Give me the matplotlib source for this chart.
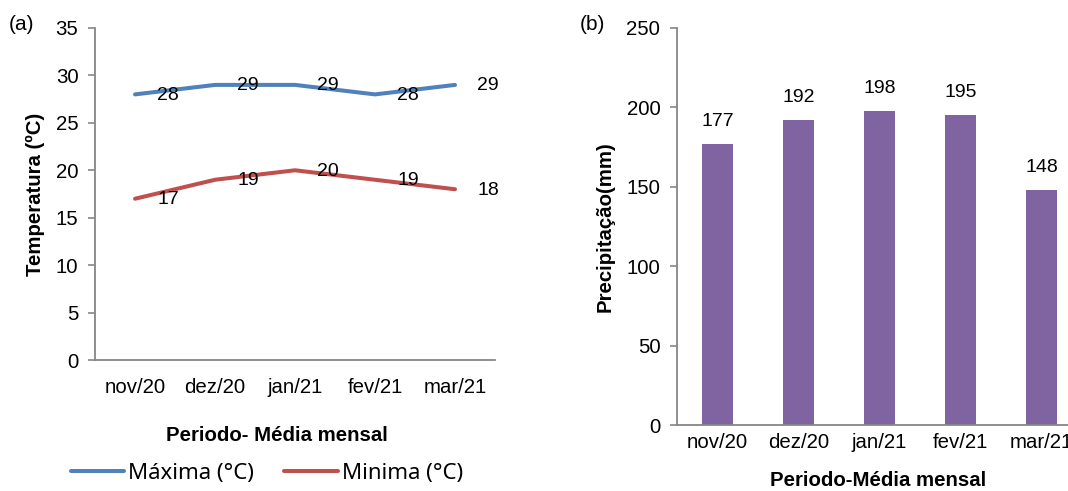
import matplotlib
matplotlib.use("Agg")
import matplotlib.pyplot as plt

# dados
meses = ["nov/20", "dez/20", "jan/21", "fev/21", "mar/21"]
t_max = [28, 29, 29, 28, 29]
t_min = [17, 19, 20, 19, 18]
precip = [177, 192, 198, 195, 148]

plt.rcParams['font.family'] = ['Liberation Sans', 'DejaVu Sans']
cinza = "#868686"
azul = "#4F81BD"
verm = "#C0504D"
roxo = "#8064A2"
fs = 14.7

fig = plt.figure(figsize=(10.68, 4.91), dpi=100)

# ----- (a) temperatura -----
ax1 = fig.add_axes([0.0890, 0.2668, 0.3745, 0.6762])
x = range(len(meses))
l1, = ax1.plot(x, t_max, color=azul, lw=2.9, solid_capstyle='round', label="Máxima (°C)")
l2, = ax1.plot(x, t_min, color=verm, lw=2.9, solid_capstyle='round', label="Minima (°C)")
for serie in (t_max, t_min):
    for i, v in enumerate(serie):
        ax1.annotate(str(v), (i, v), xytext=(33, -1), textcoords='offset pixels',
                     ha='center', va='center', fontsize=14)
ax1.set_xlim(-0.5, 4.5)
ax1.set_ylim(0, 35)
ax1.set_yticks(range(0, 36, 5))
ax1.set_xticks(list(x))
ax1.set_xticklabels(meses)
ax1.set_ylabel("Temperatura (ºC)", fontsize=fs, fontweight='bold')
ax1.set_xlabel("Periodo- Média mensal", fontsize=fs, fontweight='bold')
ax1.yaxis.label.set_va('center')
ax1.xaxis.label.set_va('center')
ax1.yaxis.set_label_coords(-0.15, 0.5)
ax1.xaxis.set_label_coords(0.455, -0.226)
ax1.tick_params(axis='y', length=5, width=1.2, color=cinza, pad=7, labelsize=fs)
ax1.tick_params(axis='x', length=0, pad=13, labelsize=fs)

# ----- (b) precipitacao -----
ax2 = fig.add_axes([0.6339, 0.1344, 0.3792, 0.8086])
barras = ax2.bar(x, precip, width=0.39, color=roxo)
ax2.bar_label(barras, padding=10, fontsize=14)
ax2.set_xlim(-0.5, 4.5)
ax2.set_ylim(0, 250)
ax2.set_yticks(range(0, 251, 50))
ax2.set_xticks(list(x))
ax2.set_xticklabels(meses)
ax2.set_ylabel("Precipitação(mm)", fontsize=fs, fontweight='bold')
ax2.set_xlabel("Periodo-Média mensal", fontsize=fs, fontweight='bold')
ax2.yaxis.label.set_va('center')
ax2.xaxis.label.set_va('center')
ax2.yaxis.set_label_coords(-0.178, 0.5)
ax2.xaxis.set_label_coords(0.496, -0.139)
ax2.tick_params(axis='y', length=5, width=1.2, color=cinza, pad=7, labelsize=fs)
ax2.tick_params(axis='x', length=0, pad=6, labelsize=fs)

for ax in (ax1, ax2):
    for s in ("top", "right"):
        ax.spines[s].set_visible(False)
    for s in ("left", "bottom"):
        ax.spines[s].set_color(cinza)
        ax.spines[s].set_linewidth(1.3)

fig.legend(handles=[l1, l2], loc='center', bbox_to_anchor=(0.25, 0.036), ncol=2,
           frameon=False, handlelength=2.4, handletextpad=0.2, columnspacing=1.35,
           prop={'family': 'Noto Sans', 'size': 16})

fig.text(21 / 1068, 1 - 25 / 491, "(a)", ha='center', va='center', fontsize=15)
fig.text(592 / 1068, 1 - 25 / 491, "(b)", ha='center', va='center', fontsize=15)

fig.savefig("out.png", dpi=100)
